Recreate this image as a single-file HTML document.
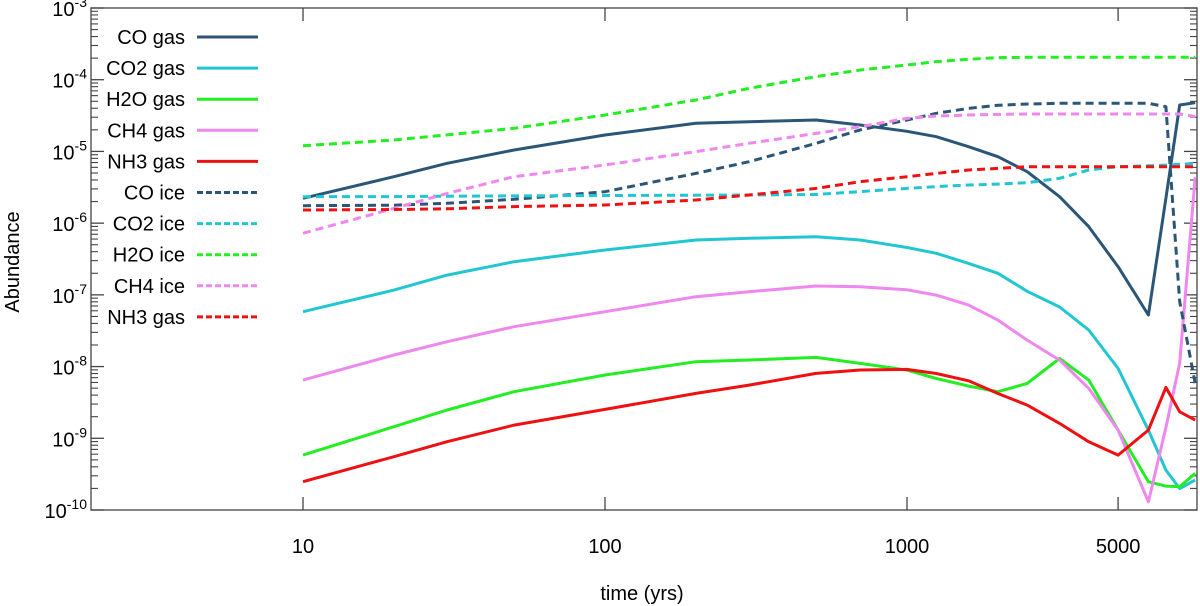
<!DOCTYPE html>
<html><head><meta charset="utf-8"><style>
html,body{margin:0;padding:0;background:#fff;}
svg{display:block;font-family:"Liberation Sans",sans-serif;}
</style></head><body>
<svg id="chart" width="1200" height="606" viewBox="0 0 1200 606"></svg>
<script>
const times = [10,20,30,50,100,200,300,500,700,1000,1250,1600,2000,2500,3200,4000,5000,6300,7200,8000,9000];
const coGas  = [-5.654,-5.352,-5.166,-4.98,-4.771,-4.608,-4.585,-4.562,-4.631,-4.72,-4.794,-4.934,-5.073,-5.282,-5.631,-6.049,-6.607,-7.281,-5.654,-4.352,-4.32];
const co2Gas = [-7.235,-6.933,-6.724,-6.537,-6.375,-6.235,-6.212,-6.189,-6.235,-6.34,-6.421,-6.561,-6.7,-6.95,-7.17,-7.491,-8.026,-8.886,-9.444,-9.70,-9.583];
const h2oGas = [-9.234,-8.839,-8.606,-8.35,-8.118,-7.932,-7.909,-7.872,-7.956,-8.049,-8.166,-8.272,-8.351,-8.235,-7.887,-8.189,-8.886,-9.607,-9.667,-9.676,-9.49];
const ch4Gas = [-8.188,-7.839,-7.653,-7.444,-7.235,-7.026,-6.956,-6.877,-6.887,-6.93,-7.003,-7.143,-7.352,-7.631,-7.91,-8.305,-8.886,-9.886,-8.85,-7.95,-5.36];
const nh3Gas = [-9.606,-9.257,-9.048,-8.816,-8.597,-8.374,-8.258,-8.095,-8.048,-8.04,-8.096,-8.198,-8.375,-8.537,-8.793,-9.049,-9.235,-8.886,-8.291,-8.63,-8.747];
const coIce  = [-5.757,-5.75,-5.724,-5.668,-5.561,-5.306,-5.143,-4.887,-4.7,-4.562,-4.469,-4.4,-4.357,-4.338,-4.329,-4.329,-4.329,-4.329,-4.376,-7.095,-8.234];
const co2Ice = [-5.631,-5.63,-5.625,-5.62,-5.615,-5.61,-5.608,-5.6,-5.56,-5.515,-5.491,-5.468,-5.455,-5.436,-5.375,-5.259,-5.213,-5.2,-5.19,-5.18,-5.166];
const h2oIce = [-4.92,-4.84,-4.77,-4.678,-4.492,-4.283,-4.12,-3.957,-3.864,-3.795,-3.748,-3.716,-3.692,-3.688,-3.688,-3.688,-3.688,-3.688,-3.688,-3.688,-3.688];
const ch4Ice = [-6.142,-5.794,-5.585,-5.352,-5.189,-5.003,-4.887,-4.748,-4.655,-4.539,-4.506,-4.492,-4.483,-4.478,-4.478,-4.478,-4.478,-4.478,-4.478,-4.478,-4.515];
const nh3Ice = [-5.817,-5.81,-5.80,-5.77,-5.747,-5.677,-5.608,-5.515,-5.422,-5.352,-5.306,-5.259,-5.236,-5.213,-5.213,-5.213,-5.213,-5.213,-5.213,-5.213,-5.213];
const seriesNames = ["CO gas","CO2 gas","H2O gas","CH4 gas","NH3 gas","CO ice","CO2 ice","H2O ice","CH4 ice","NH3 gas"];
const xTickValues = [10,100,1000,5000];
const xTickLabels = ["10","100","1000","5000"];
const yTickExponents = [-3,-4,-5,-6,-7,-8,-9,-10];

const NS="http://www.w3.org/2000/svg";
const svg=document.getElementById('chart');
const L=91,R=1197,T=8,B=510;
const xLogMin=Math.log10(10)-(303-L)/302, xPerDec=302;
const X=t=>303+(Math.log10(t)-1)*xPerDec;
const Y=e=>T+(-3-e)*((B-T)/7);
function mk(tag,attrs){const el=document.createElementNS(NS,tag);for(const k in attrs)el.setAttribute(k,attrs[k]);svg.appendChild(el);return el;}

// frame
const frame=mk('rect',{x:L,y:T,width:R-L,height:B-T,fill:'none',stroke:'#444','stroke-width':1.3});



// y ticks
yTickExponents.forEach(e=>{
  const y=Y(e);
  const t1=mk('line',{x1:L,y1:y,x2:L+13,y2:y,stroke:'#444','stroke-width':1.3});
  
  
  const t2=mk('line',{x1:R,y1:y,x2:R-13,y2:y,stroke:'#444','stroke-width':1.3});
  
  
  const tx=mk('text',{x:L-4,y:y+8,'text-anchor':'end','font-size':20,fill:'#000'});
  tx.innerHTML='10<tspan dy="-9" font-size="14">'+e+'</tspan>';
  
  
  if(e>-10){
    for(let m=2;m<=9;m++){
      const ym=Y(e-1+Math.log10(m));
      const a=mk('line',{x1:L,y1:ym,x2:L+7,y2:ym,stroke:'#444','stroke-width':1.1});
      
      
      const b=mk('line',{x1:R,y1:ym,x2:R-7,y2:ym,stroke:'#444','stroke-width':1.1});
      
      
    }
  }
});
// x ticks
xTickValues.forEach((v,i)=>{
  const x=X(v);
  const a=mk('line',{x1:x,y1:B,x2:x,y2:B-13,stroke:'#444','stroke-width':1.3});
  
  
  const b=mk('line',{x1:x,y1:T,x2:x,y2:T+13,stroke:'#444','stroke-width':1.3});
  
  
  const tx=mk('text',{x:x,y:553,'text-anchor':'middle','font-size':20,fill:'#000'});
  tx.textContent=xTickLabels[i];
  
  
});
const xt=mk('text',{x:642,y:600,'text-anchor':'middle','font-size':20,fill:'#000'});
xt.textContent='time (yrs)';


const yt=mk('text',{x:0,y:0,'text-anchor':'middle','font-size':20,fill:'#000',transform:'translate(19,262) rotate(-90)'});
yt.textContent='Abundance';



const series=[coGas,co2Gas,h2oGas,ch4Gas,nh3Gas,coIce,co2Ice,h2oIce,ch4Ice,nh3Ice];
const colors=['#2b5677','#22c6d2','#22ee22','#ee88ee','#ee1111','#2b5677','#22c6d2','#22ee22','#ee88ee','#ee1111'];
const keys=['co-gas','co2-gas','h2o-gas','ch4-gas','nh3-gas','co-ice','co2-ice','h2o-ice','ch4-ice','nh3-ice'];
const g=document.createElementNS(NS,'g');svg.appendChild(g);
g.setAttribute('clip-path','url(#clip)');
const defs=mk('defs',{});defs.innerHTML='<clipPath id="clip"><rect x="'+L+'" y="'+T+'" width="'+(R-L)+'" height="'+(B-T)+'"/></clipPath>';
series.forEach((s,i)=>{
  const d=s.map((e,j)=>(j?'L':'M')+X(times[j]).toFixed(1)+','+Y(e).toFixed(1)).join(' ');
  const p=document.createElementNS(NS,'path');
  p.setAttribute('d',d);p.setAttribute('fill','none');p.setAttribute('stroke',colors[i]);
  p.setAttribute('stroke-width',3);p.setAttribute('stroke-linejoin','round');
  if(i>=5)p.setAttribute('stroke-dasharray','8,5');
  
  
  g.appendChild(p);
  // legend
  const ly=37+i*31.1;
  const lt=mk('text',{x:185,y:ly+7,'text-anchor':'end','font-size':20,fill:'#000'});
  lt.textContent=seriesNames[i];
  
  
  const ll=mk('line',{x1:197,y1:ly,x2:258,y2:ly,stroke:colors[i],'stroke-width':3});
  if(i>=5)ll.setAttribute('stroke-dasharray','6,3');
  
  
});
</script>
</body></html>
